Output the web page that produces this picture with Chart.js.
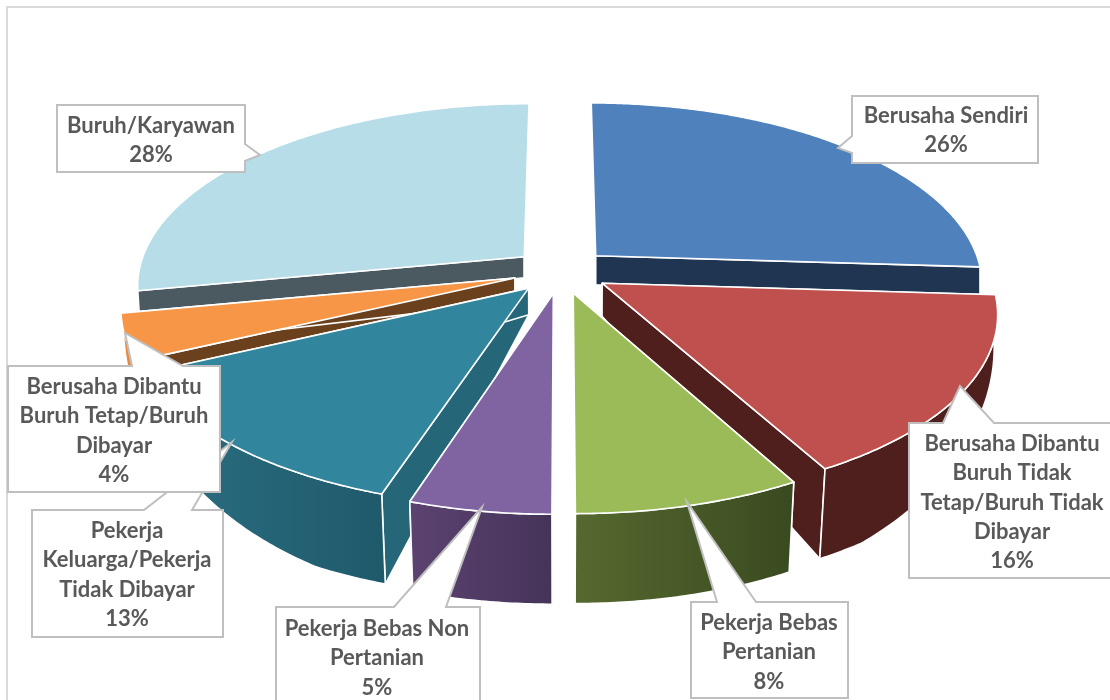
<!DOCTYPE html>
<html>
<head>
<meta charset="utf-8">
<style>html,body{margin:0;padding:0;background:#fff}#wrap{position:relative;width:1110px;height:700px}</style>
<script src="https://cdn.jsdelivr.net/npm/chart.js@4"></script>
</head>
<body>
<div id="wrap"><canvas id="c" width="1110" height="700"></canvas></div>
<script>
const categories = ["Berusaha Sendiri","Berusaha Dibantu Buruh Tidak Tetap/Buruh Tidak Dibayar","Pekerja Bebas Pertanian","Pekerja Bebas Non Pertanian","Pekerja Keluarga/Pekerja Tidak Dibayar","Berusaha Dibantu Buruh Tetap/Buruh Dibayar","Buruh/Karyawan"];
const percentages = [26,16,8,5,13,4,28];
const labelLines = [
  ["Berusaha Sendiri"],
  ["Berusaha Dibantu","Buruh Tidak","Tetap/Buruh Tidak","Dibayar"],
  ["Pekerja Bebas","Pertanian"],
  ["Pekerja Bebas Non","Pertanian"],
  ["Pekerja","Keluarga/Pekerja","Tidak Dibayar"],
  ["Berusaha Dibantu","Buruh Tetap/Buruh","Dibayar"],
  ["Buruh/Karyawan"]
];
const topColors = ["#4f81bd","#c0504d","#9bbb59","#8064a2","#31859c","#f79646","#b7dde8"];
const radialColors = ["#1f3552","#4f1f1e","#4a5f2c","#4a3660","#256779","#6b401c","#4a5a60"];
const wallFrom = ["#1f3552","#4f1f1e","#55692f","#5c4270","#2b6f82","#e98b3e","#4a5a60"];
const wallTo = ["#1f3552","#4f1f1e","#3a4a20","#45345a","#1f5a6b","#e98b3e","#4a5a60"];
// paint order, back to front
const paintOrder = [0,6,5,1,4,2,3];
const backSlices = [0,6];
// callout boxes: left, top, right, bottom, pointer (base A, tip, base B), text centre x, first-line centre y
const callouts = [
  {i:0,l:852,t:96,r:1038,b:163,p:[[852,136],[838,148],[852,153]],tx:946,ty:116},
  {i:1,l:909,t:423,r:1114,b:578,p:[[943,423],[960,386],[994,423]],tx:1012,ty:444},
  {i:2,l:691,t:602,r:848,b:698,p:[[717,602],[687,502],[756,602]],tx:769,ty:623},
  {i:3,l:276,t:607,r:480,b:704,p:[[446,607],[482,507],[394,607]],tx:377,ty:629},
  {i:4,l:32,t:510,r:223,b:637,p:[[144,510],[232,442],[192,510]],tx:127,ty:531},
  {i:5,l:8,t:366,r:220,b:492,p:[[132,366],[125,333],[183,366]],tx:114,ty:387},
  {i:6,l:57,t:105,r:245,b:172,p:[[245,144],[260,155],[245,161]],tx:151,ty:126}
];
const lineStep = 29.3;
const calloutFont = "bold 22px Lato";
const view = {cx:561, cy:271, rx:386, ry:180, p:0.15};

function project(X,Y){
  const w = 1/(1-view.p*Y);
  return [view.cx+view.rx*X*w, view.cy+view.ry*Y*w];
}
function lower(pt){
  const dx = pt[0]-view.cx, dy = Math.max(0,pt[1]-view.cy);
  const depth = Math.min(90, (dx>0?29:21)+0.335*dy);
  const squeeze = 1-0.02*Math.min(1,dy/100);
  return [view.cx+dx*squeeze, pt[1]+depth];
}
function pathOf(ctx,pts){
  ctx.beginPath();
  pts.forEach((q,n)=> n? ctx.lineTo(q[0],q[1]) : ctx.moveTo(q[0],q[1]));
  ctx.closePath();
}
function paint(ctx,pts,fill,lw){
  pathOf(ctx,pts);
  ctx.fillStyle = fill; ctx.fill();
  ctx.strokeStyle = "#ffffff"; ctx.lineWidth = lw; ctx.lineJoin="round"; ctx.stroke();
}
const pie3d = {
  id:"pie3d",
  beforeDatasetDraw(chart,args){
    const ctx = chart.ctx, arcs = args.meta.data;
    ctx.save();
    ctx.strokeStyle="#d9d9d9"; ctx.lineWidth=2;
    ctx.strokeRect(7,7,1120,720);
    paintOrder.forEach(i=>{
      const el = arcs[i];
      const a0 = el.startAngle+Math.PI/2, a1 = el.endAngle+Math.PI/2;
      const d = el.options.offset/el.outerRadius;
      const m = (a0+a1)/2;
      const ox = d*Math.sin(m), oy = -d*Math.cos(m);
      const arc = [];
      const n = Math.max(4,Math.ceil((a1-a0)/0.01));
      for(let k=0;k<=n;k++){
        const a = a0+(a1-a0)*k/n;
        arc.push(project(ox+Math.sin(a),oy-Math.cos(a)));
      }
      const apex = project(ox,oy);
      const lowApex = lower(apex);
      const lowArc = arc.map(lower);
      const A = arc[0], B = arc[n];
      paint(ctx,[apex,A,lowArc[0],lowApex],radialColors[i],1.6);
      paint(ctx,[apex,B,lowArc[n],lowApex],radialColors[i],1.6);
      if(!backSlices.includes(i)){
        const xs = arc.map(q=>q[0]);
        const g = ctx.createLinearGradient(Math.min(...xs),0,Math.max(...xs),0);
        g.addColorStop(0,wallFrom[i]); g.addColorStop(1,wallTo[i]);
        paint(ctx,arc.concat(lowArc.slice().reverse()),g,1.6);
      }
      paint(ctx,[apex].concat(arc),el.options.backgroundColor,1.6);
    });
    callouts.forEach(c=>{
      const pts = [[c.l,c.t]];
      const P = c.p;
      if(P[0][1]===c.t && P[2][1]===c.t){
        const ord = P[0][0]<P[2][0]?P:[P[2],P[1],P[0]];
        pts.push(ord[0],ord[1],ord[2],[c.r,c.t],[c.r,c.b],[c.l,c.b]);
      } else if(P[0][0]===c.r){
        pts.push([c.r,c.t],P[0],P[1],P[2],[c.r,c.b],[c.l,c.b]);
      } else {
        pts.push([c.r,c.t],[c.r,c.b],[c.l,c.b],P[2],P[1],P[0]);
      }
      pathOf(ctx,pts);
      ctx.fillStyle="#ffffff"; ctx.fill();
      ctx.strokeStyle="#bfbfbf"; ctx.lineWidth=2; ctx.lineJoin="miter"; ctx.stroke();
      ctx.fillStyle="#595959"; ctx.font=calloutFont; ctx.textAlign="center"; ctx.textBaseline="middle";
      const lines = labelLines[c.i].concat([percentages[c.i]+"%"]);
      lines.forEach((t,k)=>ctx.fillText(t,c.tx,c.ty+k*lineStep));
    });
    ctx.restore();
    return false;
  }
};
new Chart(document.getElementById("c"),{
  type:"pie",
  data:{labels:categories,datasets:[{data:percentages,backgroundColor:topColors,offset:40,borderWidth:0,clip:false}]},
  options:{
    responsive:false,animation:false,radius:320,
    layout:{padding:0},
    plugins:{legend:{display:false},tooltip:{enabled:false},title:{display:false}}
  },
  plugins:[pie3d]
});
</script>
</body>
</html>
